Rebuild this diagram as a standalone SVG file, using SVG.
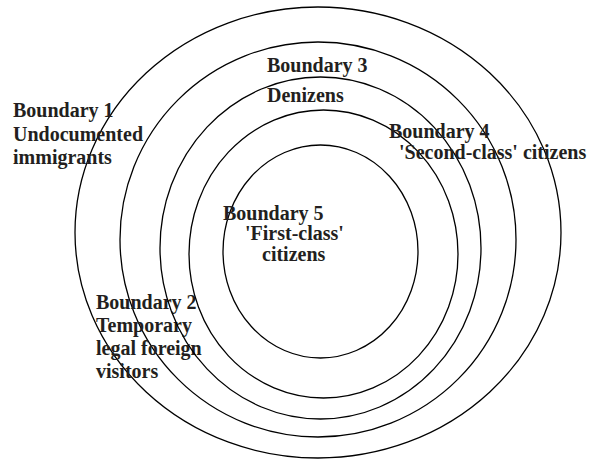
<svg xmlns="http://www.w3.org/2000/svg" width="594" height="460" viewBox="0 0 594 460">
<style>
.ring{fill:none;stroke:#000;stroke-width:1.3}
.lbl{font-family:"Liberation Serif","Times New Roman",serif;font-weight:bold;font-size:20px;fill:#231f20}
</style>
<rect width="594" height="460" fill="#fff"/>
<g id="boundary1">
<ellipse class="ring" cx="318" cy="232.5" rx="243" ry="225.5"/>
<text class="lbl" x="13" y="117">Boundary 1</text>
<text class="lbl" x="13" y="141">Undocumented</text>
<text class="lbl" x="13" y="164">immigrants</text>
</g>
<g id="boundary2">
<ellipse class="ring" cx="318" cy="239.5" rx="198" ry="197.5"/>
<text class="lbl" x="96" y="309">Boundary 2</text>
<text class="lbl" x="96" y="332">Temporary</text>
<text class="lbl" x="96" y="355">legal foreign</text>
<text class="lbl" x="96" y="378">visitors</text>
</g>
<g id="boundary3">
<ellipse class="ring" cx="320.5" cy="248" rx="160.5" ry="171"/>
<text class="lbl" x="267" y="72">Boundary 3</text>
<text class="lbl" x="267" y="102">Denizens</text>
</g>
<g id="boundary4">
<ellipse class="ring" cx="323.5" cy="254" rx="134.5" ry="144"/>
<text class="lbl" x="389" y="138">Boundary 4</text>
<text class="lbl" x="399" y="159">'Second-class' citizens</text>
</g>
<g id="boundary5">
<ellipse class="ring" cx="320.5" cy="251.5" rx="97.5" ry="106.5"/>
<text class="lbl" x="223" y="220">Boundary 5</text>
<text class="lbl" x="245" y="240">'First-class'</text>
<text class="lbl" x="262" y="261">citizens</text>
</g>
<g id="connectors"/>
</svg>
